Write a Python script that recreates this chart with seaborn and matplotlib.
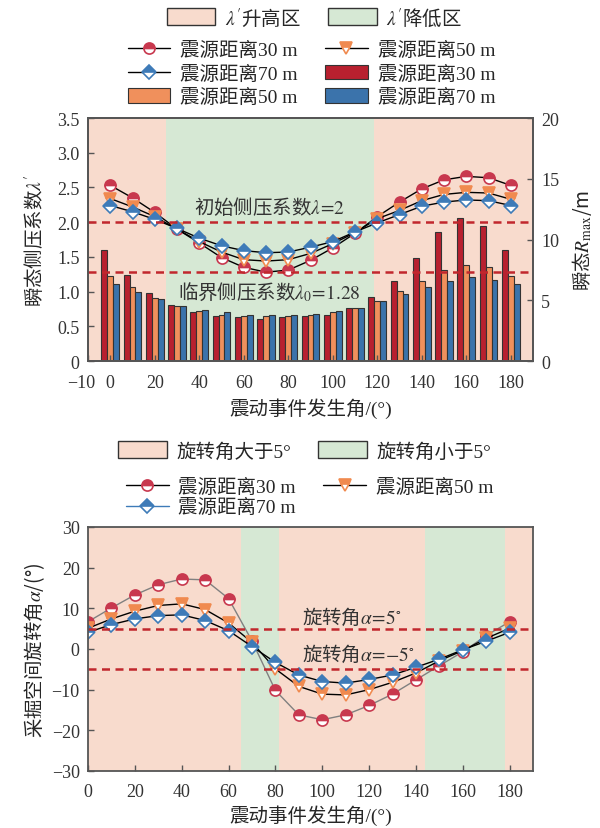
import numpy as np
import pandas as pd
import seaborn as sns
import matplotlib.pyplot as plt
import matplotlib.transforms as mtransforms
from matplotlib.patches import Patch
from matplotlib.lines import Line2D

# Event angles (deg)
angles = list(range(0, 181, 10))

# Top panel: transient lateral pressure coefficient (left axis)
lam_30 = [2.53, 2.35, 2.14, 1.90, 1.70, 1.49, 1.35, 1.28, 1.31, 1.45, 1.63,
          1.84, 2.08, 2.29, 2.48, 2.61, 2.66, 2.64, 2.53]
lam_50 = [2.34, 2.22, 2.08, 1.90, 1.72, 1.57, 1.46, 1.44, 1.46, 1.55, 1.69,
          1.85, 2.05, 2.17, 2.31, 2.40, 2.43, 2.42, 2.33]
lam_70 = [2.24, 2.15, 2.04, 1.91, 1.77, 1.66, 1.59, 1.56, 1.57, 1.64, 1.72,
          1.86, 1.99, 2.11, 2.23, 2.29, 2.32, 2.31, 2.24]

# Top panel: transient R_max (right axis, m)
r_30 = [9.1, 7.1, 5.6, 4.6, 4.0, 3.7, 3.6, 3.5, 3.6, 3.7, 3.8, 4.4, 5.3, 6.6,
        8.5, 10.6, 11.8, 11.1, 9.1]
r_50 = [7.0, 6.1, 5.2, 4.5, 4.1, 3.8, 3.7, 3.7, 3.7, 3.8, 4.0, 4.4, 4.9, 5.8,
        6.6, 7.5, 7.9, 7.7, 7.0]
r_70 = [6.3, 5.7, 5.1, 4.5, 4.2, 4.0, 3.8, 3.8, 3.8, 3.9, 4.1, 4.4, 4.9, 5.5,
        6.1, 6.6, 6.9, 6.7, 6.3]

# Bottom panel: rotation angle of mining space (deg)
alpha_30 = [6.7, 10.1, 13.3, 15.8, 17.2, 17.0, 12.4, 2.0, -10.2, -16.2, -17.4,
            -16.2, -13.9, -11.1, -7.6, -4.1, -0.7, 3.3, 6.7]
alpha_50 = [5.1, 7.4, 9.3, 10.7, 11.1, 9.7, 6.4, 1.6, -4.9, -9.2, -11.1,
            -11.3, -10.0, -8.2, -5.9, -2.9, -0.4, 2.6, 5.1]
alpha_70 = [4.1, 6.0, 7.4, 8.2, 8.4, 7.0, 4.5, 0.6, -3.3, -6.4, -8.0,
            -8.4, -7.5, -6.4, -4.5, -2.5, -0.2, 1.9, 4.1]

dist_labels = ['震源距离30 m', '震源距离50 m', '震源距离70 m']
top_xticks = [-10] + list(range(0, 181, 20))
top_xlabels = ['\u221210'] + [str(v) for v in range(0, 181, 20)]

# colours
pink = '#f8dbcd'
green = '#d6e8d4'
bar_red, bar_orange, bar_blue = '#b8202f', '#f0905c', '#3b73ab'
mk_red, mk_orange, mk_blue = '#c8384e', '#f08a4f', '#3e7bb8'
dash_c = '#c1272d'
spine_c = '#555555'

sns.set_style('ticks')
plt.rcParams['font.family'] = ['Liberation Serif', 'Noto Sans CJK SC']
plt.rcParams['mathtext.fontset'] = 'stix'
plt.rcParams['axes.unicode_minus'] = True
CJK = 'Noto Sans CJK SC'
FS = 14

fig = plt.figure(figsize=(6, 8.29), dpi=100)

# ---------------- top panel ----------------
ax = fig.add_axes([0.1467, 0.5633, 0.7417, 0.2931])
ax_r = ax.twinx()
ax.set_zorder(ax_r.get_zorder() + 1)
ax.patch.set_visible(False)

ax_r.axvspan(-10, 25, color=pink, lw=0, zorder=0)
ax_r.axvspan(25, 118.5, color=green, lw=0, zorder=0)
ax_r.axvspan(118.5, 190, color=pink, lw=0, zorder=0)

bars = pd.DataFrame({
    'angle': angles * 3,
    'R': r_30 + r_50 + r_70,
    'dist': [dist_labels[0]] * 19 + [dist_labels[1]] * 19 + [dist_labels[2]] * 19,
})
sns.barplot(data=bars, x='angle', y='R', hue='dist', native_scale=True,
            palette=[bar_red, bar_orange, bar_blue], saturation=1, width=0.8,
            edgecolor='#333333', linewidth=0.8, errorbar=None, legend=False,
            ax=ax_r)

line_styles = [
    (lam_30, 'o', mk_red, 8),
    (lam_50, 'v', mk_orange, 8.5),
    (lam_70, 'D', mk_blue, 7),
]
for vals, m, c, s in line_styles:
    sns.lineplot(x=angles, y=vals, ax=ax, color='black', lw=1, marker=m,
                 markersize=s, fillstyle='top', markerfacecolor=c,
                 markerfacecoloralt='white', markeredgecolor=c,
                 markeredgewidth=1.2)

ax.axhline(2.0, color=dash_c, ls=(0, (3.2, 2.2)), lw=1.8)
ax.axhline(1.28, color=dash_c, ls=(0, (3.2, 2.2)), lw=1.8)
ax.text(71.5, 2.22, '初始侧压系数$\\lambda\\!=\\!\\mathrm{2}$', family=CJK,
        fontsize=FS, ha='center', va='center', color='#333333')
ax.text(71.5, 1.0, '临界侧压系数$\\lambda_0\\!=\\!\\mathrm{1.28}$', family=CJK,
        fontsize=FS, ha='center', va='center', color='#333333')

ax.set_xlim(-10, 190)
ax.set_ylim(0, 3.5)
ax_r.set_ylim(0, 20)
ax.set_xticks(top_xticks, top_xlabels)
ax.set_yticks(np.arange(0, 3.51, 0.5),
              ['0', '0.5', '1.0', '1.5', '2.0', '2.5', '3.0', '3.5'])
ax_r.set_yticks([0, 5, 10, 15, 20])
ax.set_ylabel("瞬态侧压系数$\\lambda'$", family=CJK, fontsize=FS)
ax.yaxis.set_label_coords(-0.092, 0.5)
ax_r.set_ylabel('瞬态$R_{\\mathrm{max}}$/m', family=CJK, fontsize=FS)
ax_r.yaxis.set_label_coords(1.082, 0.5)
ax.set_xlabel('震动事件发生角/(°)', fontsize=FS)
ax.xaxis.set_label_coords(0.5, -0.15)
ax_r.set_xlabel('')

# ---------------- bottom panel ----------------
bx = fig.add_axes([0.1467, 0.0688, 0.7417, 0.2943])
bx.axvspan(0, 65.5, color=pink, lw=0, zorder=0)
bx.axvspan(65.5, 81.5, color=green, lw=0, zorder=0)
bx.axvspan(81.5, 144, color=pink, lw=0, zorder=0)
bx.axvspan(144, 178, color=green, lw=0, zorder=0)
bx.axvspan(178, 190, color=pink, lw=0, zorder=0)

bottom_styles = [
    (alpha_30, 'o', mk_red, 8, '#808080'),
    (alpha_50, 'v', mk_orange, 8.5, 'black'),
    (alpha_70, 'D', mk_blue, 7, 'black'),
]
for vals, m, c, s, lc in bottom_styles:
    sns.lineplot(x=angles, y=vals, ax=bx, color=lc, lw=1, marker=m,
                 markersize=s, fillstyle='top', markerfacecolor=c,
                 markerfacecoloralt='white', markeredgecolor=c,
                 markeredgewidth=1.2)

bx.axhline(5, color=dash_c, ls=(0, (3.2, 2.2)), lw=1.8)
bx.axhline(-5, color=dash_c, ls=(0, (3.2, 2.2)), lw=1.8)
bx.text(91.5, 7.9, '旋转角$\\alpha\\!=\\!\\mathrm{5}^{\\circ}$', family=CJK,
        fontsize=FS, ha='left', va='center', color='#333333')
bx.text(91.5, -1.2, '旋转角$\\alpha\\!=\\!\\mathrm{-5}^{\\circ}$', family=CJK,
        fontsize=FS, ha='left', va='center', color='#333333')

bx.set_xlim(0, 190)
bx.set_ylim(-30, 30)
bx.set_xticks(range(0, 181, 20))
bx.set_yticks(range(-30, 31, 10))
bx.set_ylabel('采掘空间旋转角$\\alpha$/(°)', family=CJK, fontsize=FS)
bx.yaxis.set_label_coords(-0.092, 0.5)
bx.set_xlabel('震动事件发生角/(°)', fontsize=FS)
bx.xaxis.set_label_coords(0.5, -0.135)

for a in (ax, ax_r, bx):
    for sp in a.spines.values():
        sp.set_color(spine_c)
        sp.set_linewidth(1.3)
    a.tick_params(direction='in', length=4, width=1, color=spine_c,
                  labelsize=13, labelcolor='#333333')
    a.tick_params(axis='x', pad=9)
    a.tick_params(axis='y', pad=6)
ax.tick_params(axis='y', right=False)
ax_r.tick_params(axis='y', left=False, right=True)

# nudge the "-10" label left so it clears "0"
first = ax.get_xticklabels()[0]
first.set_transform(first.get_transform() +
                    mtransforms.ScaledTranslation(-5 / 72, 0, fig.dpi_scale_trans))

# ---------------- legends ----------------
def set_cjk(leg, idx):
    for i in idx:
        leg.get_texts()[i].set_fontfamily(CJK)

leg_kw = dict(loc='center', frameon=False, fontsize=FS, handletextpad=0.5,
              borderpad=0.1)

l1 = fig.legend([Patch(fc=pink, ec='#333333', lw=1),
                 Patch(fc=green, ec='#333333', lw=1)],
                ["$\\lambda'$升高区", "$\\lambda'$降低区"],
                bbox_to_anchor=(0.524, 0.978), ncol=2, handlelength=2.5,
                handleheight=0.95, columnspacing=1.4, **leg_kw)
set_cjk(l1, [0, 1])

def mk_handle(m, c, s, lc='black'):
    return Line2D([], [], color=lc, lw=1, marker=m, markersize=s,
                  fillstyle='top', markerfacecolor=c,
                  markerfacecoloralt='white', markeredgecolor=c,
                  markeredgewidth=1.2)

h_line30 = mk_handle('o', mk_red, 8)
h_line50 = mk_handle('v', mk_orange, 8.5)
h_line70 = mk_handle('D', mk_blue, 7)
h_bar30 = Patch(fc=bar_red, ec='#333333', lw=0.8)
h_bar50 = Patch(fc=bar_orange, ec='#333333', lw=0.8)
h_bar70 = Patch(fc=bar_blue, ec='#333333', lw=0.8)

fig.legend([h_line30, h_line70, h_bar50, h_line50, h_bar30, h_bar70],
           [dist_labels[0], dist_labels[2], dist_labels[1],
            dist_labels[1], dist_labels[0], dist_labels[2]],
           bbox_to_anchor=(0.519, 0.910), ncol=2, handlelength=2.2,
           handleheight=0.8, labelspacing=0.26, columnspacing=1.4, **leg_kw)

fig.legend([Patch(fc=pink, ec='#333333', lw=1),
            Patch(fc=green, ec='#333333', lw=1)],
           ['旋转角大于5°', '旋转角小于5°'],
           bbox_to_anchor=(0.508, 0.455), ncol=2, handlelength=2.5,
           handleheight=0.95, columnspacing=1.4, **leg_kw)

fig.legend([h_line30, mk_handle('D', mk_blue, 7, lc=mk_blue), h_line50],
           [dist_labels[0], dist_labels[2], dist_labels[1]],
           bbox_to_anchor=(0.516, 0.399), ncol=2, handlelength=2.2,
           labelspacing=0.1, columnspacing=1.4, **leg_kw)

fig.savefig('out.png', dpi=100)
